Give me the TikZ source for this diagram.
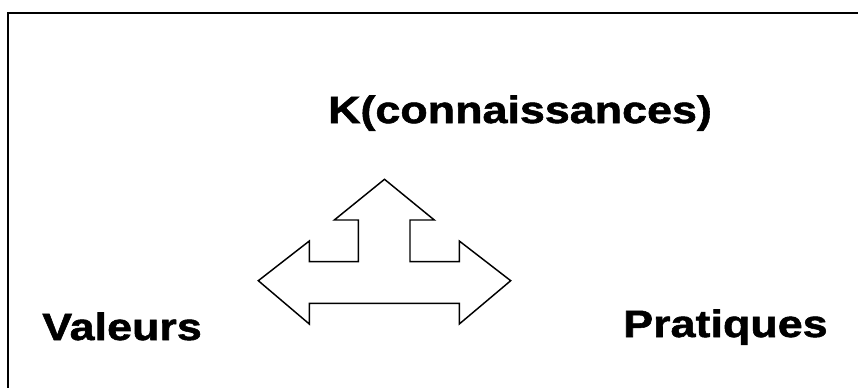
\documentclass[tikz,border=0pt]{standalone}
\usepackage{fontspec}
\newfontfamily\labelfont[FakeStretch=1.18,FakeBold=1.5]{Liberation Sans}
\usetikzlibrary{positioning}

\begin{document}
\begin{tikzpicture}[
    x=0.75pt,
    y=-0.75pt,
    every node/.style={font=\labelfont\fontsize{28.5}{32}\selectfont\bfseries},
    label/.style={
        inner sep=0pt
    },
    outline/.style={
        draw,
        line width=1.1pt,
        line join=miter
    }
]

% Page frame (cut at right and bottom)
\useasboundingbox (0, 0) rectangle (858, 387);
\clip (0, 0) rectangle (858, 387);
\draw[line width=1.5pt] (8, 13) rectangle (880, 410);

% Labels
\node[label, anchor=base] (know) at (520, 123) {K(connaissances)};
\node[label, anchor=base west] (values) at (42, 340) {Valeurs};
\node[label, anchor=base west] (practice) at (623, 337) {Pratiques};

% Three-way arrow
\draw[outline] (384.5, 179.3) -- (434.3, 220) -- (410, 220) -- (410, 261.7)
    -- (459.3, 261.7) -- (459.3, 241) -- (510.7, 280.7) -- (459.3, 324)
    -- (459.3, 303.3) -- (309.3, 303.3) -- (309.3, 324) -- (258.3, 280.7)
    -- (309.3, 241) -- (309.3, 261.7) -- (358.3, 261.7) -- (358.3, 220)
    -- (334.3, 220) -- cycle;

\end{tikzpicture}
\end{document}
